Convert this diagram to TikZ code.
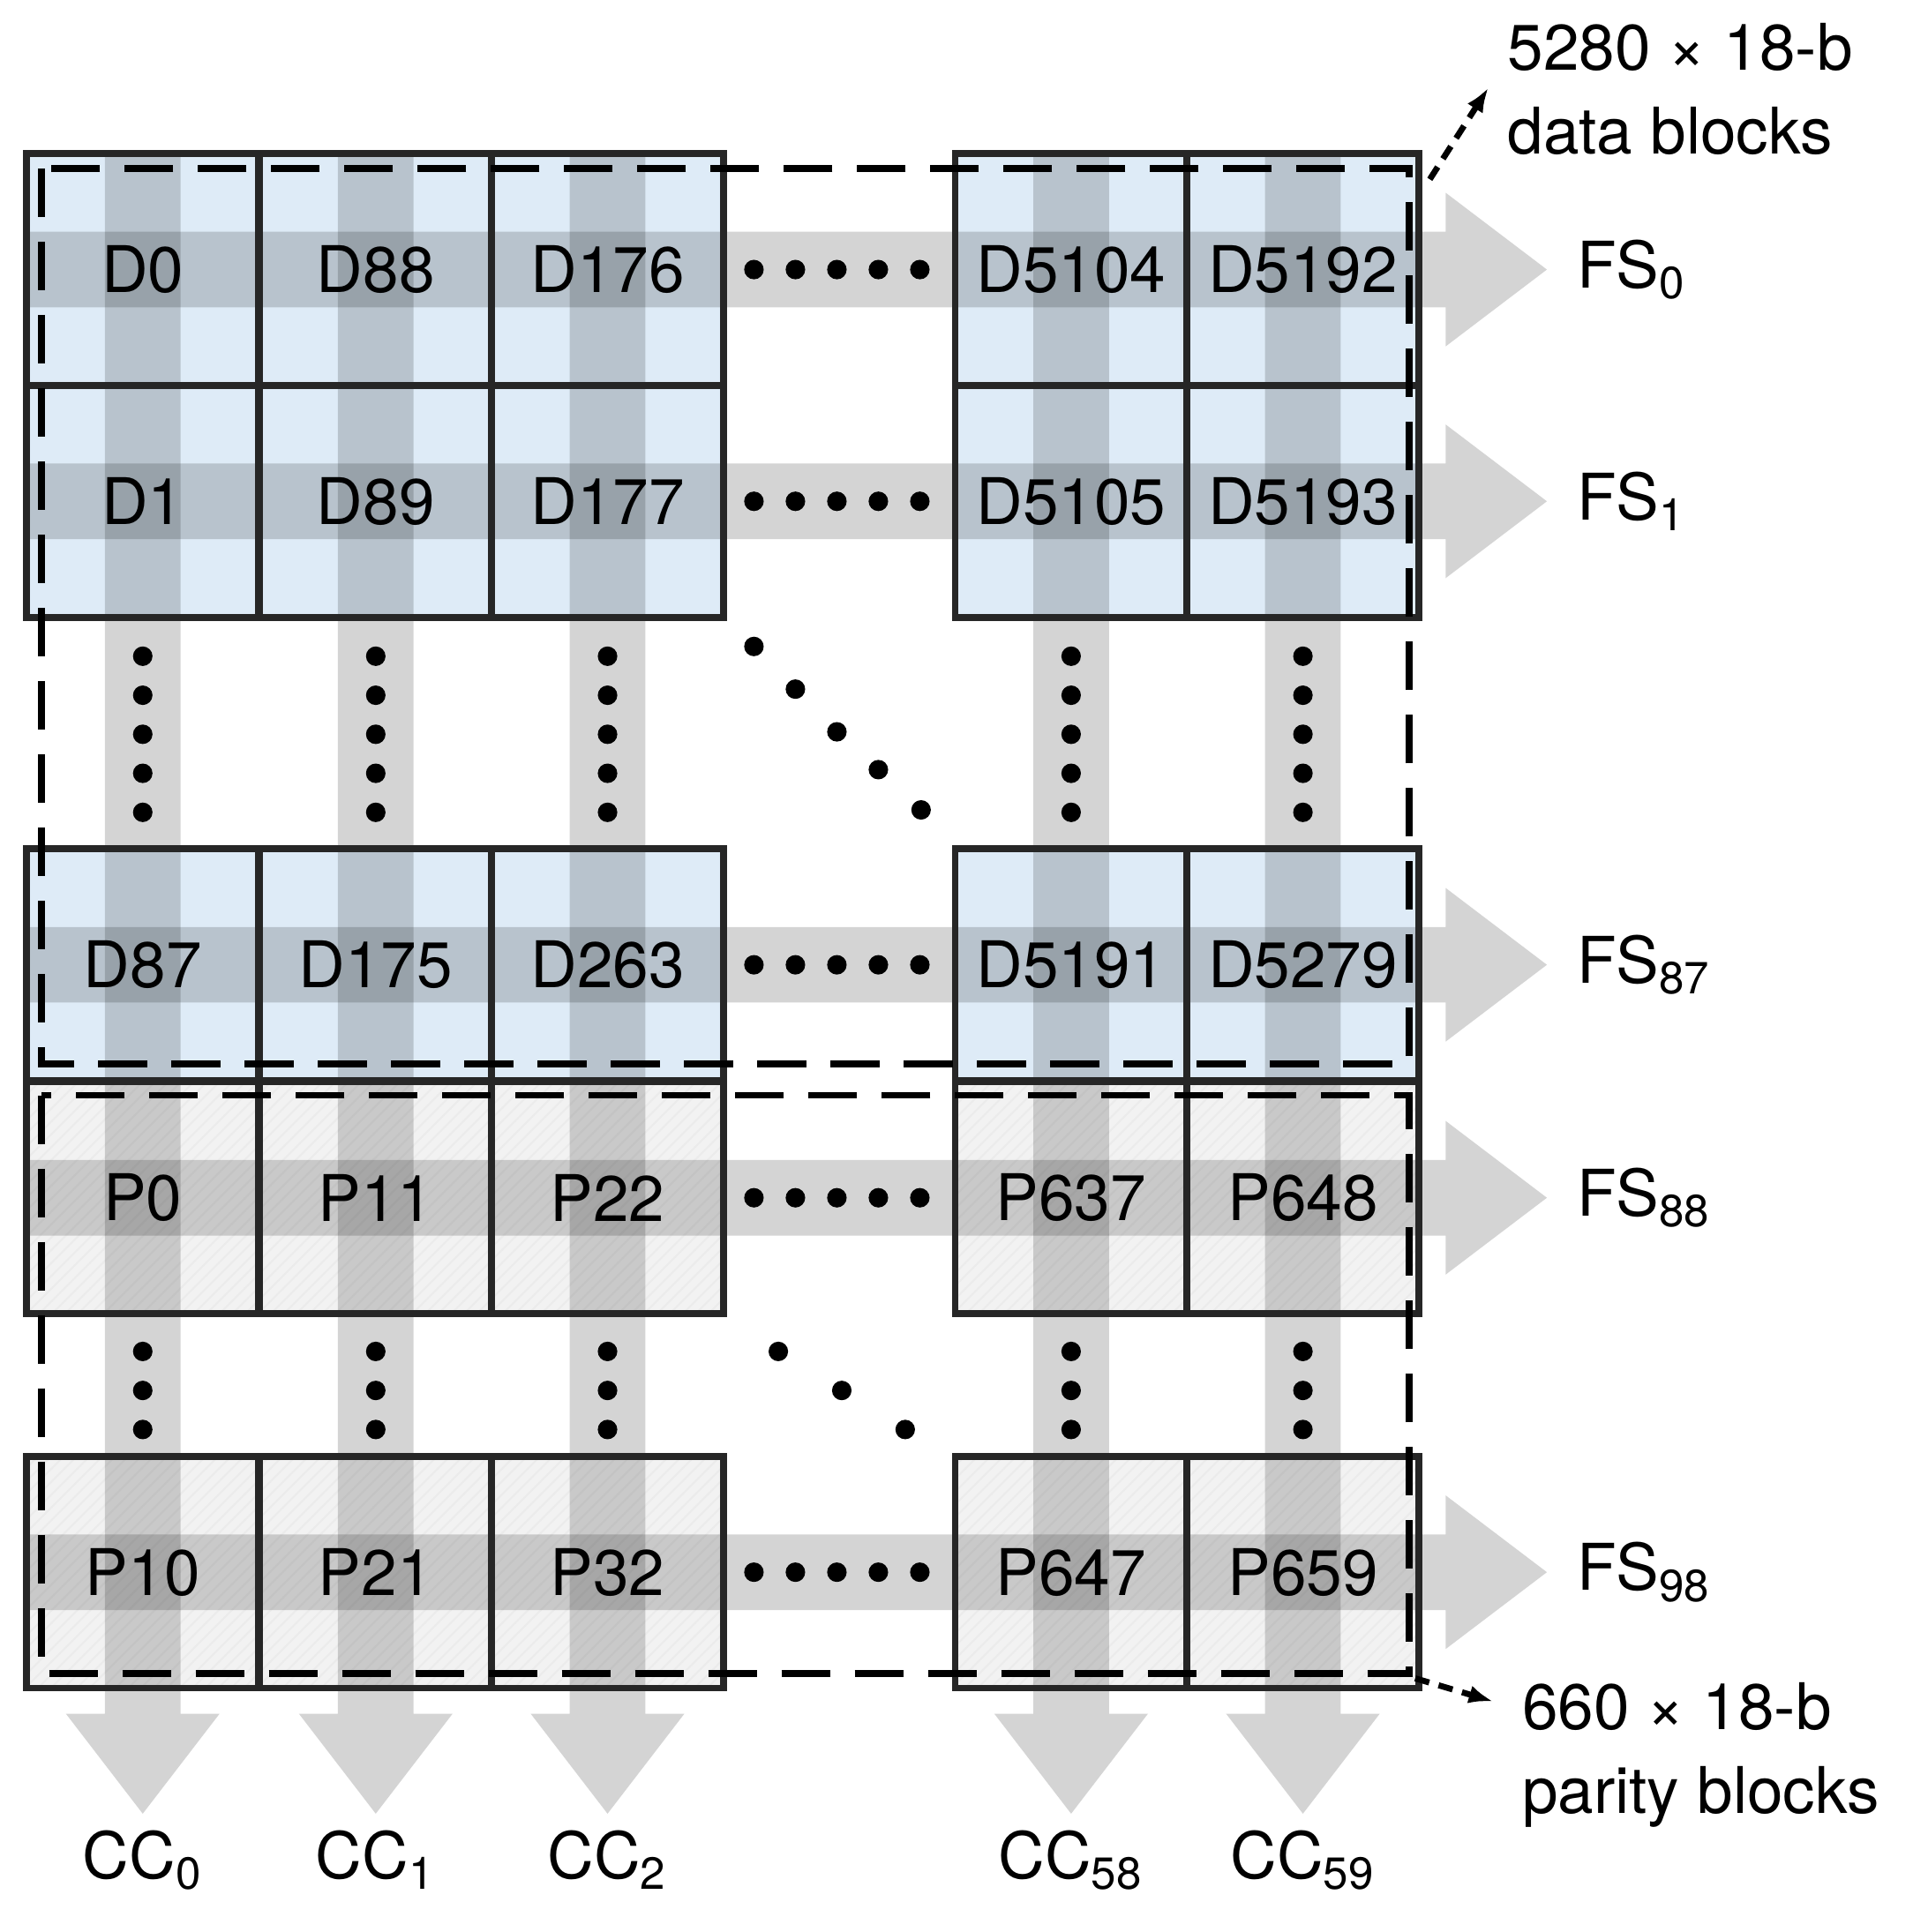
\documentclass[tikz,border=0pt]{standalone}
\usepackage{fontspec}
\setmainfont{TeX Gyre Heros}
\usetikzlibrary{patterns,arrows.meta}
\definecolor{dblue}{RGB}{222,235,247}
\definecolor{pgray}{RGB}{242,242,242}
\begin{document}
\begin{tikzpicture}[x=0.01cm,y=-0.01cm,
  cell/.style={draw=black!85,line width=1.6pt,minimum width=1.9cm,minimum height=1.9cm,inner sep=0,font=\fontsize{15}{18}\selectfont},
  data/.style={cell,fill=dblue},
  par/.style={cell,fill=pgray,postaction={pattern=north east lines,pattern color=black!8}},
  band/.style={fill=black,fill opacity=0.17,draw=none},
  dot/.style={circle,fill=black,inner sep=0,minimum size=0.16cm},
  lab/.style={font=\fontsize{15}{18}\selectfont,inner sep=0},
  box/.style={draw=black,line width=1.6pt,dash pattern=on 0.4cm off 0.2cm}]
\useasboundingbox (0,0) rectangle (1568,1584);
% cells
\def\xs{117/a,308/b,498/c,878/d,1068/e}
\foreach \y/\r/\st/\names in {221/r0/data/{D0,D88,D176,D5104,D5192},411/r1/data/{D1,D89,D177,D5105,D5193},791/r2/data/{D87,D175,D263,D5191,D5279},982/r3/par/{P0,P11,P22,P637,P648},1289/r4/par/{P10,P21,P32,P647,P659}}{
  \foreach \x/\c [count=\i] in \xs {
    \foreach \t [count=\j] in \names {\ifnum\i=\j \node[\st] (\r\c) at (\x,\y) {};\fi}
  }
}
% bands
\foreach \y in {221,411,791,982,1289}{
  \fill[band] (22,\y-31) -- (1185,\y-31) -- (1185,\y-63) -- (1268,\y) -- (1185,\y+63) -- (1185,\y+31) -- (22,\y+31) -- cycle;}
\foreach \x in {117,308,498,878,1068}{
  \fill[band] (\x-31,126) -- (\x-31,1405) -- (\x-63,1405) -- (\x,1487) -- (\x+63,1405) -- (\x+31,1405) -- (\x+31,126) -- cycle;}
% borders + text
\foreach \y/\r/\st/\names in {221/r0/data/{D0,D88,D176,D5104,D5192},411/r1/data/{D1,D89,D177,D5105,D5193},791/r2/data/{D87,D175,D263,D5191,D5279},982/r3/par/{P0,P11,P22,P637,P648},1289/r4/par/{P10,P21,P32,P647,P659}}{
  \foreach \x/\c [count=\i] in \xs {
    \foreach \t [count=\j] in \names {\ifnum\i=\j \node[cell,draw=black!85] (\r\c t) at (\x,\y) {\t};\fi}
  }
  \foreach \d in {0,1,2,3,4} \node[dot] (hd\r\d) at (618+\d*34,\y) {};
}
% dashed boxes
\draw[box] (34,138) rectangle (1155,872);
\draw[box] (34,898) rectangle (1155,1372);
% vertical dots
\foreach \x in {117,308,498,878,1068}{
  \foreach \d in {0,...,4} \node[dot] at (\x,538+\d*32) {};
  \foreach \d in {0,1,2} \node[dot] at (\x,1108+\d*32) {};}
\foreach \p in {(618,530),(652,565),(686,600),(720,631),(755,664),(638,1108),(690,1140),(742,1172)} \node[dot] at \p {};
% labels
\foreach \y/\s in {221/0,411/1,791/87,982/88,1289/98} \node[lab,anchor=west] at (1292,\y) {FS$_{\mathrm{\s}}$};
\foreach \x/\s in {117/0,308/1,498/2,878/58,1068/59} \node[lab] at (\x,1525) {CC$_{\mathrm{\s}}$};
\coordinate (a1) at (1172,147); \coordinate (a2) at (1220,72);
\draw[line width=1.4pt,dash pattern=on 0.12cm off 0.08cm,-{Latex[length=0.2cm]}] (a1) -- (a2);
\node[lab,anchor=west,align=left] (dl) at (1235,73) {5280 × 18-b\\[0.05cm]data blocks};
\coordinate (b1) at (1160,1376); \coordinate (b2) at (1224,1395);
\draw[line width=1.4pt,dash pattern=on 0.12cm off 0.08cm,-{Latex[length=0.2cm]}] (b1) -- (b2);
\node[lab,anchor=west,align=left] (pl) at (1247,1439) {660 × 18-b\\[0.05cm]parity blocks};
\end{tikzpicture}
\end{document}
